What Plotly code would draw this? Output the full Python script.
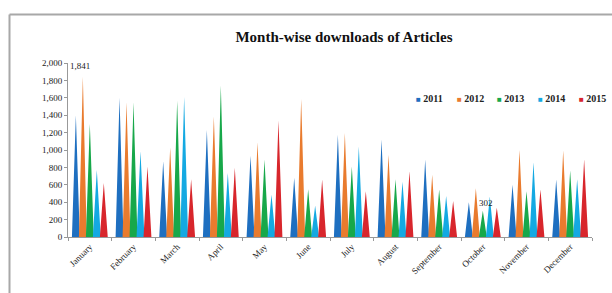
import plotly.graph_objects as go

months = ["January", "February", "March", "April", "May", "June", "July",
          "August", "September", "October", "November", "December"]
years = ["2011", "2012", "2013", "2014", "2015"]
v2011 = [1400, 1600, 870, 1230, 935, 680, 1175, 1120, 890, 400, 600, 660]
v2012 = [1841, 1550, 1030, 1385, 1090, 1585, 1195, 945, 715, 560, 1000, 995]
v2013 = [1300, 1550, 1565, 1740, 890, 550, 810, 665, 545, 302, 525, 765]
v2014 = [770, 985, 1610, 735, 485, 360, 1040, 635, 470, 465, 860, 665]
v2015 = [620, 810, 665, 795, 1340, 660, 525, 755, 415, 335, 545, 895]
series = [v2011, v2012, v2013, v2014, v2015]
colors = ["#1E6FC0", "#E97B2E", "#17A84A", "#14A9E2", "#D8262C"]

offsets = [-0.32, -0.16, 0.0, 0.16, 0.32]
half = 0.09

fig = go.Figure()
for yr, vals, col, off in zip(years, series, colors, offsets):
    xs, ys = [], []
    for i, v in enumerate(vals):
        c = i + off
        xs += [c - half, c, c + half, c - half, None]
        ys += [0, v, 0, 0, None]
    fig.add_trace(go.Scatter(x=xs, y=ys, mode="lines", fill="toself",
                             fillcolor=col, line=dict(width=0, color=col),
                             name=yr, showlegend=False, hoverinfo="skip"))

serif = "Liberation Serif"
L, R, T, B = 68, 20, 63, 56
W, H = 612, 293
pw, ph = W - L - R, H - T - B

def px(xp):
    return (xp - L) / pw

def py(yp):
    return (H - B - yp) / ph

annotations = [
    dict(x=0 + offsets[1], y=v2012[0], text="1,841", showarrow=False,
         xref="x", yref="y", yshift=11, xshift=-3,
         font=dict(family=serif, size=9, color="#222")),
    dict(x=9 + offsets[2], y=v2013[9], text="302", showarrow=False,
         xref="x", yref="y", yshift=8, xshift=3,
         font=dict(family=serif, size=9, color="#222")),
]
leg_x = [414, 455, 495, 536, 577]
for yr, col, lx in zip(years, colors, leg_x):
    annotations.append(dict(
        x=px(lx), y=py(98), xref="paper", yref="paper",
        xanchor="left", yanchor="middle", showarrow=False,
        text=f'<span style="color:{col};font-size:8px">■</span> <b>{yr}</b>',
        font=dict(family=serif, size=10, color="#222")))

shapes = [
    dict(type="line", xref="paper", yref="paper",
         x0=px(9.5), x1=px(9.5), y0=py(300), y1=py(14.5),
         line=dict(color="#A8A8A8", width=2)),
    dict(type="line", xref="paper", yref="paper",
         x0=px(9.5), x1=px(620), y0=py(14.5), y1=py(14.5),
         line=dict(color="#A8A8A8", width=2)),
]

fig.update_layout(
    width=W, height=H,
    margin=dict(l=L, r=R, t=T, b=B),
    paper_bgcolor="white", plot_bgcolor="white",
    title=dict(text="<b>Month-wise downloads of Articles</b>",
               x=344 / W, xref="container", xanchor="center",
               y=1 - 37 / H, yref="container", yanchor="middle",
               font=dict(family=serif, size=15, color="#111")),
    xaxis=dict(range=[-0.5, 11.5], tickvals=list(range(12)), ticktext=months,
               tickangle=-45, ticks="", showgrid=False, zeroline=False,
               showline=True, linecolor="#999", linewidth=1,
               tickfont=dict(family=serif, size=9, color="#222"),
               minor=dict(tick0=0.5, dtick=1, ticks="outside", ticklen=3,
                          tickcolor="#999")),
    yaxis=dict(range=[0, 2000], tickvals=list(range(0, 2001, 200)),
               tickformat=",d", showgrid=False, zeroline=False,
               showline=True, linecolor="#999", linewidth=1,
               ticks="outside", ticklen=3, tickcolor="#999",
               tickfont=dict(family=serif, size=9, color="#222")),
    annotations=annotations,
    shapes=shapes,
    showlegend=False,
)

fig.write_html("out.html", config={"displayModeBar": False},
               post_script="document.body.style.margin='0';document.body.style.overflow='hidden';")
